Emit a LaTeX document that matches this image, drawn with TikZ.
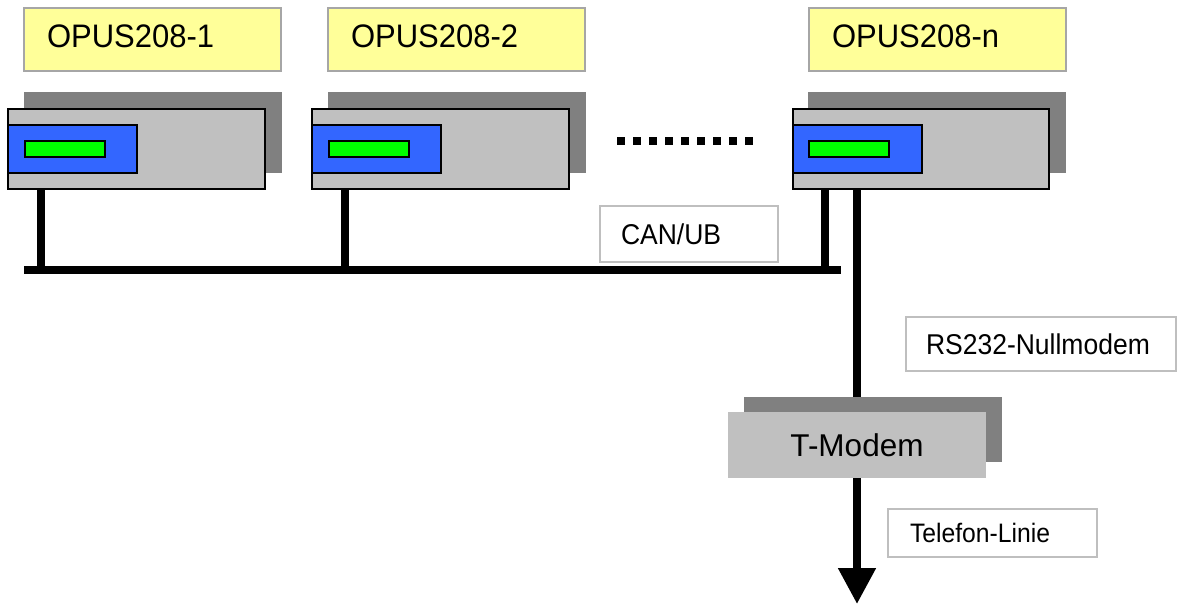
\documentclass[tikz,border=0pt]{standalone}
\usepackage{graphicx}
\usepackage{fontspec}
\setmainfont{Liberation Sans}
\usetikzlibrary{arrows.meta}
\definecolor{labyellow}{HTML}{FFFF99}
\definecolor{shadegray}{HTML}{808080}
\definecolor{frontgray}{HTML}{C0C0C0}
\definecolor{panelblue}{HTML}{3366FF}
\definecolor{lcdgreen}{HTML}{00FF00}
\definecolor{labborder}{HTML}{A6A6A6}
\definecolor{smallborder}{HTML}{BFBFBF}
\newcommand\vstretch[2]{\scalebox{1}[#1]{#2}}
\tikzset{
  box/.style={rectangle, inner sep=0pt, outer sep=0pt, anchor=north west},
  shadowbox/.style={box, fill=shadegray},
  frontbox/.style={box, fill=frontgray, draw=black, line width=2pt},
  panelbox/.style={box, fill=panelblue, draw=black, line width=1.5pt, minimum width=129pt, minimum height=48pt},
  lcdbox/.style={box, fill=lcdgreen, draw=black, line width=1.5pt, minimum width=80pt, minimum height=16pt},
  devlabel/.style={box, fill=labyellow, draw=labborder, line width=1.5pt, minimum height=63pt,
    text width=211pt, inner xsep=23pt, align=left, text height=24pt, text depth=8pt,
    font=\fontsize{31}{36}\selectfont},
  smalllabel/.style={box, fill=white, draw=smallborder, line width=1.5pt, align=left},
  bus/.style={line width=8pt, draw=black},
}
\begin{document}
\begin{tikzpicture}[x=1pt,y=-1pt]
\useasboundingbox (0,0) rectangle (1178,606);

% device 1
\node[devlabel] (l1) at (24,8) {\vstretch{1.05}{OPUS208-1}};
\node[shadowbox, minimum width=258pt, minimum height=81pt] (s1) at (24,92) {};
\node[frontbox, minimum width=257pt, minimum height=80pt] (f1) at (8,109) {};
\node[panelbox] (p1) at (8,125) {};
\node[lcdbox] (g1) at (25,141) {};

% device 2
\node[devlabel] (l2) at (328,8) {\vstretch{1.05}{OPUS208-2}};
\node[shadowbox, minimum width=258pt, minimum height=81pt] (s2) at (328,92) {};
\node[frontbox, minimum width=257pt, minimum height=80pt] (f2) at (312,109) {};
\node[panelbox] (p2) at (312,125) {};
\node[lcdbox] (g2) at (329,141) {};

% device n
\node[devlabel] (l3) at (809,8) {\vstretch{1.05}{OPUS208-n}};
\node[shadowbox, minimum width=258pt, minimum height=81pt] (s3) at (808,92) {};
\node[frontbox, minimum width=256pt, minimum height=80pt] (f3) at (793,109) {};
\node[panelbox] (p3) at (793,125) {};
\node[lcdbox] (g3) at (809,141) {};

% dots
\draw[line width=8pt, dash pattern=on 8pt off 8pt] (617,141) -- (753,141);

% T-Modem
\node[shadowbox, minimum width=258pt, minimum height=65pt] (ms) at (744,397) {};
\node[box, fill=frontgray, minimum width=258pt, minimum height=66pt, font=\fontsize{31.5}{36}\selectfont] (mf) at (728,412) {T-Modem};

% small labels
\node[smalllabel, minimum height=56pt, text width=136pt, inner xsep=21pt, font=\fontsize{26.5}{30}\selectfont] (can) at (600,206) {\vstretch{1.08}{CAN/UB}};
\node[smalllabel, minimum height=54pt, text width=230pt, inner xsep=20pt, font=\fontsize{26.5}{30}\selectfont] (rs) at (906,317) {\vstretch{1.08}{RS232-Nullmodem}};
\node[smalllabel, minimum height=48pt, text width=165pt, inner xsep=22pt, font=\fontsize{24.7}{28}\selectfont] (tl) at (888,509) {\vstretch{1.08}{Telefon-Linie}};

% bus
\coordinate (busL) at (24,270);
\coordinate (busR) at (841,270);
\coordinate (d1) at (41,270);
\coordinate (d2) at (345,270);
\coordinate (d3) at (825,270);
\coordinate (rsx) at (857,0);
\coordinate (tel) at (857,604);
\draw[bus] (busL) -- (busR);
\draw[bus] (d1 |- f1.south) -- (d1);
\draw[bus] (d2 |- f2.south) -- (d2);
\draw[bus] (d3 |- f3.south) -- (d3);
\draw[bus] (rsx |- f3.south) -- (rsx |- ms.north);
\draw[bus, -{Triangle[length=36pt,width=36pt]}] (rsx |- mf.south) -- (tel);
\end{tikzpicture}
\end{document}
